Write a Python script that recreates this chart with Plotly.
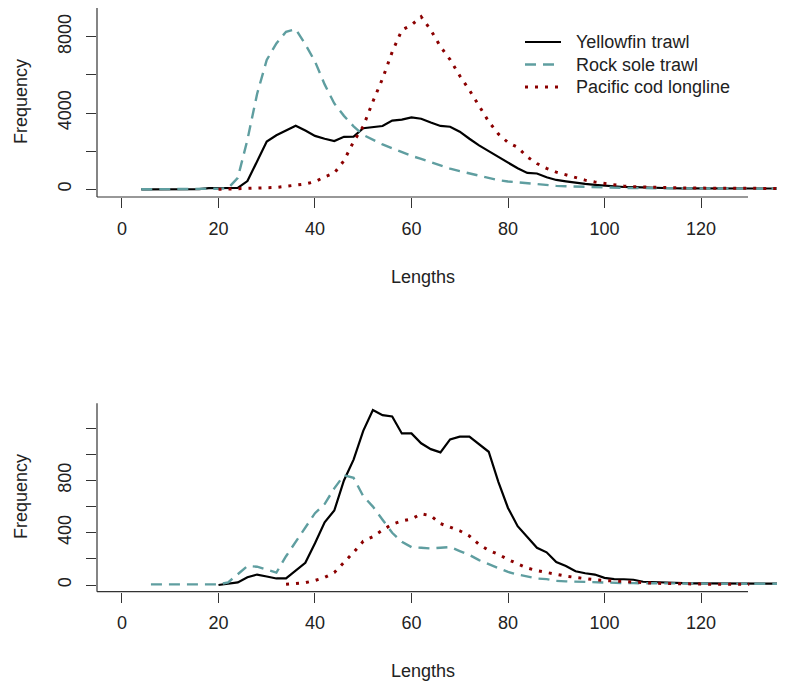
import plotly.graph_objects as go

# The browser body adds an 8px margin; the figure is sized so the page is exactly filled.
OFF = 8
W, H = 785 - OFF, 683 - OFF

# ---------------- data ----------------
lengths_top = [4, 6, 8, 10, 12, 14, 16, 18, 20, 22, 24, 26, 28, 30, 32, 34, 36, 38, 40, 42,
               44, 46, 48, 50, 52, 54, 56, 58, 60, 62, 64, 66, 68, 70, 72, 74, 76, 78, 80, 82,
               84, 86, 88, 90, 92, 94, 96, 98, 100, 102, 104, 106, 108, 110, 112, 114, 116, 118, 120, 122,
               124, 126, 128, 130, 132, 134, 136, 138, 140]

yellowfin_top = [0, 0, 0, 0, 0, 0, 10, 60, 70, 60, 70, 430, 1450, 2500, 2830, 3100, 3330, 3080, 2800, 2650,
                 2530, 2750, 2760, 3200, 3250, 3320, 3600, 3650, 3770, 3700, 3500, 3320, 3280, 3020, 2650, 2300, 2000, 1700, 1420, 1100,
                 860, 830, 630, 490, 420, 340, 280, 230, 190, 150, 120, 110, 90, 60, 60, 55, 50, 50, 50, 45,
                 45, 45, 40, 40, 40, 40, 40, 40, 40]

rocksole_top = [0, 0, 0, 0, 0, 0, 10, 20, 30, 60, 600, 2600, 5000, 6780, 7650, 8260, 8400, 7600, 6700, 5500,
                4500, 3850, 3300, 2850, 2600, 2350, 2150, 1950, 1750, 1600, 1420, 1230, 1080, 950, 830, 700, 580, 480, 410, 360,
                300, 250, 210, 180, 160, 140, 120, 100, 90, 80, 70, 65, 60, 55, 50, 45, 40, 40, 35, 30,
                30, 25, 25, 20, 20, 20, 20, 20, 20]

pcod_top = [None, None, None, None, None, None, None, None, 0, 10, 20, 30, 60, 80, 100, 150, 200, 280, 400, 650,
            850, 1500, 2500, 3300, 4600, 5800, 7200, 8350, 8610, 9050, 8350, 7480, 6800, 5950, 5200, 4350, 3550, 2900, 2450, 2200,
            1700, 1350, 1100, 900, 750, 600, 480, 380, 300, 220, 170, 140, 120, 100, 90, 80, 70, 65, 60, 55,
            50, 50, 45, 45, 40, 40, 40, 40, 40]

lengths_bot = [6, 8, 10, 12, 14, 16, 18, 20, 22, 24, 26, 28, 30, 32, 34, 36, 38, 40, 42, 44,
               46, 48, 50, 52, 54, 56, 58, 60, 62, 64, 66, 68, 70, 72, 74, 76, 78, 80, 82, 84,
               86, 88, 90, 92, 94, 96, 98, 100, 102, 104, 106, 108, 110, 112, 114, 116, 118, 120, 122, 124,
               126, 128, 130, 132, 134, 136, 138, 140]

yellowfin_bot = [None, None, None, None, None, None, None, 0, 10, 20, 60, 80, 65, 50, 50, 110, 170, 320, 480, 570,
                 800, 960, 1180, 1340, 1300, 1290, 1160, 1160, 1085, 1040, 1015, 1115, 1136, 1136, 1080, 1020, 790, 590, 450, 370,
                 285, 250, 175, 145, 105, 90, 80, 55, 45, 44, 40, 25, 22, 18, 15, 14, 13, 12, 12, 11,
                 11, 10, 10, 10, 10, 10, 10, 10]

rocksole_bot = [5, 5, 5, 5, 5, 5, 5, 5, 20, 80, 145, 140, 120, 95, 220, 330, 450, 550, 620, 740,
                840, 820, 680, 600, 500, 400, 330, 290, 285, 280, 285, 290, 260, 230, 190, 160, 125, 100, 80, 65,
                50, 45, 32, 28, 25, 22, 20, 18, 16, 15, 14, 13, 12, 12, 11, 11, 10, 10, 10, 10,
                10, 10, 10, 10, 10, 10, 10, 10]

pcod_bot = [None, None, None, None, None, None, None, None, None, None, None, None, None, None, 5, 12, 18, 35, 58, 95,
            170, 250, 335, 370, 420, 465, 490, 505, 545, 530, 470, 445, 415, 375, 310, 265, 235, 195, 165, 130,
            110, 95, 80, 68, 58, 48, 40, 35, 30, 27, 24, 20, 14, 12, 10, 9, 8, 7, 6, 6,
            5, 5, 5, None, None, None, None, None]

series_names = ["Yellowfin trawl", "Rock sole trawl", "Pacific cod longline"]
x_ticks = [0, 20, 40, 60, 80, 100, 120]
y_ticks_top = [0, 2000, 4000, 6000, 8000]
y_labels_top = ["0", "", "4000", "", "8000"]
y_ticks_bot = [0, 200, 400, 600, 800, 1000, 1200]
y_labels_bot = ["0", "", "400", "", "800", "", ""]

# ---------------- styles ----------------
FONT = "Liberation Sans, Arial, sans-serif"
TXT = "#222222"
FS = 18
styles = [
    dict(color="black", width=2.2, dash="solid"),
    dict(color="#5F9EA0", width=2.4, dash="11px,7px"),
    dict(color="#8B0000", width=3, dash="3px,7px"),
]

fig = go.Figure()
top = [yellowfin_top, rocksole_top, pcod_top]
bot = [yellowfin_bot, rocksole_bot, pcod_bot]
for name, ys, st in zip(series_names, top, styles):
    fig.add_trace(go.Scatter(x=lengths_top, y=ys, mode="lines", name=name, line=st,
                             xaxis="x", yaxis="y", showlegend=False, connectgaps=False))
for name, ys, st in zip(series_names, bot, styles):
    fig.add_trace(go.Scatter(x=lengths_bot, y=ys, mode="lines", name=name, line=st,
                             xaxis="x2", yaxis="y2", showlegend=False, connectgaps=False))

# page-pixel -> paper coordinates
def px_x(p):
    return (p - OFF) / W

def px_y(p):
    return 1 - (p - OFF) / H

# page-pixel geometry of the two panels
L_PX, R_BOX = 97, 748
TOP_T, TOP_B = 8, 197
BOT_T, BOT_B = 403.3, 591.7

xrange = [-5.18, 137.41]
common_x = dict(range=xrange, showgrid=False, zeroline=False, showline=False,
                ticks="outside", ticklen=10, tickwidth=1, tickcolor="#333333",
                tickvals=x_ticks, ticktext=[str(v) for v in x_ticks],
                tickfont=dict(family=FONT, size=FS, color=TXT),
                ticklabelstandoff=5, domain=[px_x(L_PX), 1])
common_y = dict(showgrid=False, zeroline=False, showline=False,
                ticks="outside", ticklen=10, tickwidth=1, tickcolor="#333333",
                tickangle=-90, tickfont=dict(family=FONT, size=FS, color=TXT),
                ticklabelstandoff=8)

fig.update_layout(
    width=W, height=H,
    margin=dict(l=0, r=0, t=0, b=0),
    paper_bgcolor="white", plot_bgcolor="white",
    xaxis=dict(anchor="y", **common_x),
    xaxis2=dict(anchor="y2", **common_x),
    yaxis=dict(anchor="x", range=[-403.7, 9505], tickvals=y_ticks_top, ticktext=y_labels_top,
               domain=[px_y(TOP_B), px_y(TOP_T)], **common_y),
    yaxis2=dict(anchor="x2", range=[-51.3, 1391], tickvals=y_ticks_bot, ticktext=y_labels_bot,
                domain=[px_y(BOT_B), px_y(BOT_T)], **common_y),
    showlegend=False,
)

shapes = []
for t, b in [(TOP_T, TOP_B), (BOT_T, BOT_B)]:
    shapes.append(dict(type="line", xref="paper", yref="paper", x0=px_x(L_PX), x1=px_x(L_PX),
                       y0=px_y(t), y1=px_y(b), line=dict(color="#333333", width=1.2)))
    shapes.append(dict(type="line", xref="paper", yref="paper", x0=px_x(L_PX), x1=px_x(R_BOX),
                       y0=px_y(b), y1=px_y(b), line=dict(color="#333333", width=1.2)))

annotations = []
# axis titles
for yc in [102, 497]:
    annotations.append(dict(text="Frequency", x=px_x(21), y=px_y(yc), xref="paper", yref="paper",
                            showarrow=False, textangle=-90, xanchor="center", yanchor="middle",
                            font=dict(family=FONT, size=FS, color=TXT)))
for yc in [277, 671]:
    annotations.append(dict(text="Lengths", x=px_x(422.5), y=px_y(yc), xref="paper", yref="paper",
                            showarrow=False, xanchor="center", yanchor="middle",
                            font=dict(family=FONT, size=FS, color=TXT)))

# legend (top panel)
for i, (name, st) in enumerate(zip(series_names, styles)):
    yy = [42, 64.5, 87][i]
    shapes.append(dict(type="line", xref="paper", yref="paper", x0=px_x(525), x1=px_x(561),
                       y0=px_y(yy), y1=px_y(yy), line=st))
    annotations.append(dict(text=name, x=px_x(574), y=px_y(yy), xref="paper", yref="paper",
                            showarrow=False, xanchor="left", yanchor="middle",
                            font=dict(family=FONT, size=FS, color=TXT)))

fig.update_layout(shapes=shapes, annotations=annotations)
fig.write_html("out.html")
